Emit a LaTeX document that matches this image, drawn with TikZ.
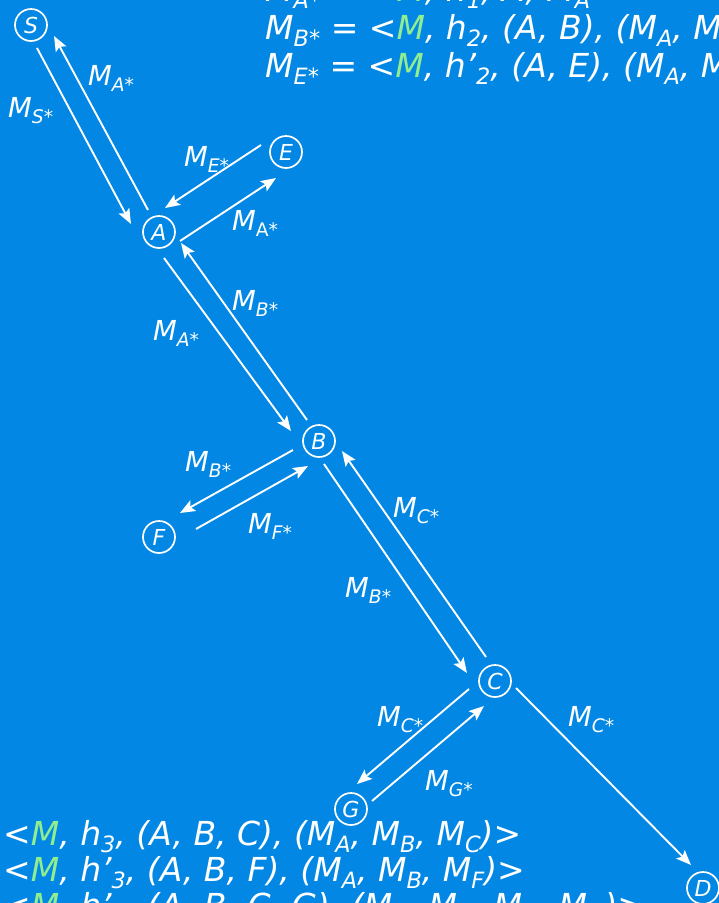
\documentclass[tikz,border=0pt]{standalone}
\usepackage{fontspec}
\setmainfont{DejaVu Sans}
\usetikzlibrary{arrows.meta,calc}
\definecolor{slBlue}{HTML}{0288E4}
\definecolor{slGreen}{HTML}{90EE90}
\newcommand{\sbs}[1]{\raisebox{-0.24em}{\scalebox{0.68}{#1}}}
\newcommand{\Ms}[1]{M\sbs{#1}}
\newcommand{\gM}{\textcolor{slGreen}{M}}

\begin{document}
\begin{tikzpicture}[
  x=1pt,y=-1pt,
  st/.style={circle,draw=white,line width=1.7pt,minimum size=32pt,inner sep=0pt,
             text=white,font=\fontsize{22}{22}\selectfont\itshape},
  lbl/.style={anchor=base west,inner sep=0pt,text=white,
              font=\fontsize{27.5}{27.5}\selectfont\itshape},
  eqn/.style={anchor=base west,inner sep=0pt,text=white,
              font=\fontsize{33}{33}\selectfont\itshape},
  msg/.style={draw=white,line width=1.9pt,
              -{Stealth[length=15pt,width=12pt,inset=3pt]}}
]
\fill[slBlue] (0,0) rectangle (719,903);
\clip (0,0) rectangle (719,903);
% stations
\node[st] (S) at (31,25) {S};
\node[st] (A) at (159,232) {A};
\node[st] (E) at (286,152) {E};
\node[st] (B) at (319,441) {B};
\node[st] (F) at (159,537) {F};
\node[st] (C) at (495,681) {C};
\node[st] (G) at (351,809) {G};
\node[st] (D) at (703,888) {D};
% messages
\draw[msg] ($(S)+(6,23)$) -- ($(A)+(-28,-8)$);
\draw[msg] ($(A)+(-11,-22)$) -- ($(S)+(23,11)$);
\draw[msg] ($(E)+(-25,-7)$) -- ($(A)+(6,-24)$);
\draw[msg] ($(A)+(21,9)$) -- ($(E)+(-10,26)$);
\draw[msg] ($(A)+(5,26)$) -- ($(B)+(-28,-10)$);
\draw[msg] ($(B)+(-12,-21)$) -- ($(A)+(22,11)$);
\draw[msg] ($(B)+(-26,9)$) -- ($(F)+(21,-24)$);
\draw[msg] ($(F)+(37,-8)$) -- ($(B)+(-11,25)$);
\draw[msg] ($(B)+(5,23)$) -- ($(C)+(-28,-8)$);
\draw[msg] ($(C)+(-9,-24)$) -- ($(B)+(23,10)$);
\draw[msg] ($(C)+(-26,8)$) -- ($(G)+(6,-25)$);
\draw[msg] ($(G)+(21,-8)$) -- ($(C)+(-11,25)$);
\draw[msg] ($(C)+(21,7)$) -- ($(D)+(-12,-23)$);
% labels
\node[lbl] (lAS) at (88,85) {\Ms{A*}};
\node[lbl] (lSA) at (8,117) {\Ms{S*}};
\node[lbl] (lEA) at (184,166) {\Ms{E*}};
\node[lbl] (lAE) at (232,230) {\Ms{\upshape A*}};
\node[lbl] (lBA) at (232,310) {\Ms{B*}};
\node[lbl] (lAB) at (153,340) {\Ms{A*}};
\node[lbl] (lBF) at (185,471) {\Ms{B*}};
\node[lbl] (lFB) at (248,533) {\Ms{F*}};
\node[lbl] (lCB) at (393,517) {\Ms{C*}};
\node[lbl] (lBC) at (345,597) {\Ms{B*}};
\node[lbl] (lCG) at (377,726) {\Ms{C*}};
\node[lbl] (lCD) at (568,726) {\Ms{C*}};
\node[lbl] (lGC) at (425,790) {\Ms{G*}};
% message contents
\node[eqn] (tA) at (265,1) {\Ms{A*} = <\gM, h\sbs{1}, A, \Ms{A}>};
\node[eqn] (tB) at (265,39) {\Ms{B*} = <\gM, h\sbs{2}, (A, B), (\Ms{A}, \Ms{B})>};
\node[eqn] (tE) at (265,77) {\Ms{E*} = <\gM, h’\sbs{2}, (A, E), (\Ms{A}, \Ms{E})>};
\node[eqn] (tC) at (3,845) {<\gM, h\sbs{3}, (A, B, C), (\Ms{A}, \Ms{B}, \Ms{C})>};
\node[eqn] (tF) at (3,881) {<\gM, h’\sbs{3}, (A, B, F), (\Ms{A}, \Ms{B}, \Ms{F})>};
\node[eqn] (tG) at (3,917) {<\gM, h’\sbs{4}, (A, B, C, G), (\Ms{A}, \Ms{B}, \Ms{C}, \Ms{G})>};
\end{tikzpicture}
\end{document}
